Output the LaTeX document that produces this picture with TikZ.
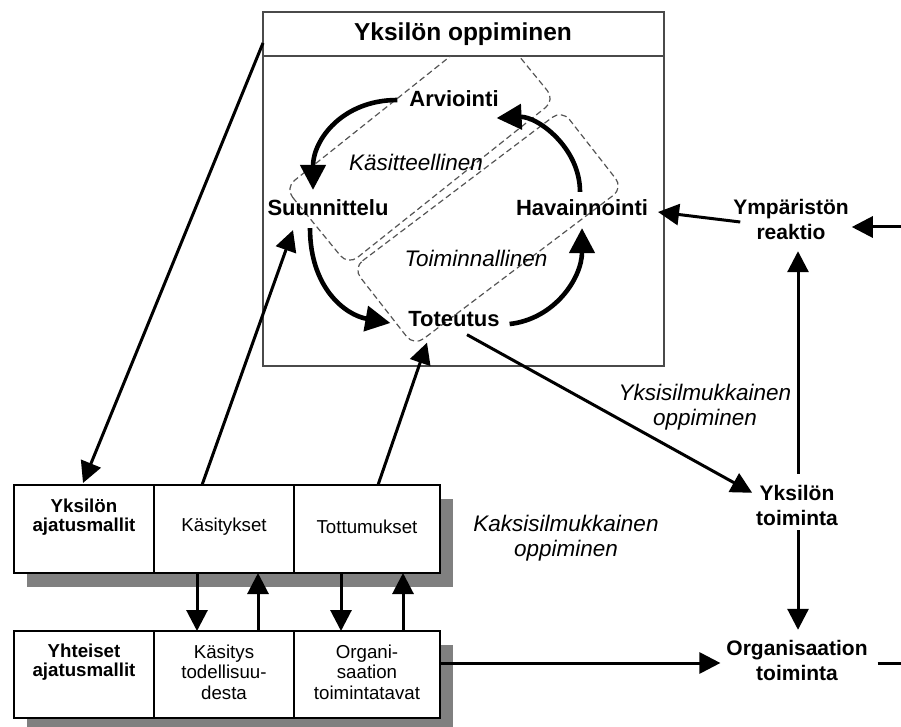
\documentclass[tikz,border=0pt]{standalone}
\usepackage{fontspec}
\setmainfont{Liberation Sans}
\usetikzlibrary{arrows.meta,calc}
\definecolor{framegray}{HTML}{4A4A4A}
\definecolor{regiongray}{HTML}{555555}
\definecolor{shadowgray}{HTML}{808080}
\begin{document}
\begin{tikzpicture}[x=1pt,y=-1pt,
  every node/.style={inner sep=0pt, outer sep=0pt, align=center},
  titletext/.style={font={\fontsize{24.5}{28}\selectfont\bfseries}},
  stage/.style={font={\fontsize{22}{25}\selectfont\bfseries}},
  actor/.style={font={\fontsize{21}{25}\selectfont\bfseries}},
  note/.style={font={\fontsize{22.5}{25.5}\selectfont\itshape}},
  celltext/.style={font={\fontsize{18.7}{20.5}\selectfont}},
  cellhead/.style={font={\fontsize{18.7}{19.5}\selectfont\bfseries}},
  cell/.style={draw=black, line width=2.2pt, fill=white},
  frame/.style={draw=framegray, line width=2.2pt},
  region/.style={draw=regiongray, line width=1.2pt, dash pattern=on 6pt off 3.5pt, rounded corners=12pt},
  arr/.style={line width=3pt, -{Triangle[length=21pt,width=21pt]}},
  cycarr/.style={line width=4.6pt, -{Triangle[length=25pt,width=25pt]}},
  plain/.style={line width=3pt}
]
\useasboundingbox (0,0) rectangle (901,727);

% ---------- individual learning frame ----------
\node[frame, minimum width=401pt, minimum height=354pt] (frame) at (463.5,189) {};
\draw[frame] (frame.west |- 0,56) -- (frame.east |- 0,56);
\node[titletext] (title) at (463,34) {Yksilön oppiminen};

% conceptual and operational halves of the cycle
\begin{scope}
  \clip (frame.south west) rectangle (frame.east |- 0,57);
  \draw[region] (285,188) -- (348,265) -- (555,100) -- (492,23) -- cycle;
  \draw[region] (353,268) -- (562,110) -- (623,188) -- (414,346) -- cycle;
\end{scope}

\node[note] (kas) at (416,162) {Käsitteellinen};
\node[note] (toim) at (476,258) {Toiminnallinen};

% learning cycle stages
\node[stage] (arv) at (454,99) {Arviointi};
\node[stage] (suu) at (328,208) {Suunnittelu};
\node[stage] (hav) at (582,208) {Havainnointi};
\node[stage] (tot) at (454,319) {Toteutus};

\draw[cycarr] ($(arv.west)+(-12,1)$) .. controls +(-55,0) and +(0,-50) .. ($(suu.north)+(-15,-10)$);
\draw[cycarr] ($(suu.south)+(-18,12)$) .. controls +(0,60) and +(-45,-8) .. ($(tot.west)+(-18,4)$);
\draw[cycarr] ($(tot.east)+(10,5)$) .. controls +(45,-5) and +(0,50) .. ($(hav.south)+(0,12)$);
\draw[cycarr] ($(hav.north)+(-2,-8)$) .. controls +(0,-45) and +(40,-2) .. ($(arv.south east)+(-2,11)$);

% ---------- mental models ----------
\fill[shadowgray] (27,499) rectangle (453,587);
\fill[shadowgray] (27,645) rectangle (453,727);

\node[cell, minimum width=140pt, minimum height=88pt] (y1) at (84,529) {};
\node[cell, minimum width=140pt, minimum height=88pt] (y2) at (224,529) {};
\node[cell, minimum width=146pt, minimum height=88pt] (y3) at (367,529) {};
\node[cell, minimum width=140pt, minimum height=87pt] (k1) at (84,674.5) {};
\node[cell, minimum width=140pt, minimum height=87pt] (k2) at (224,674.5) {};
\node[cell, minimum width=146pt, minimum height=87pt] (k3) at (367,674.5) {};

\node[cellhead] (y1t) at (84,517) {Yksilön\\ajatusmallit};
\node[celltext] (y2t) at (224,527) {Käsitykset};
\node[celltext] (y3t) at (367,527) {Tottumukset};
\node[cellhead] (k1t) at (84,662) {Yhteiset\\ajatusmallit};
\node[celltext] (k2t) at (224,672) {Käsitys\\todellisuu-\\desta};
\node[celltext] (k3t) at (367,672) {Organi-\\saation\\toimintatavat};

\draw[arr] (y2.south -| 197,0) -- (k2.north -| 197,0);
\draw[arr] (k2.north -| 258,0) -- (y2.south -| 258,0);
\draw[arr] (y3.south -| 341,0) -- (k3.north -| 341,0);
\draw[arr] (k3.north -| 403,0) -- (y3.south -| 403,0);

% links between the frame and the mental models
\draw[arr] ($(frame.north west)+(0,31)$) -- ($(y1.north)+(-1,-2)$);
\draw[arr] ($(y2.north)+(-22,0)$) -- ($(suu.south)+(-35,14)$);
\draw[arr] ($(y3.north)+(11,0)$) -- ($(tot.south)+(-27,16)$);

% ---------- action and environment ----------
\node[actor] (ymp) at (791,219) {Ympäristön\\reaktio};
\node[actor] (yt) at (797,505) {Yksilön\\toiminta};
\node[actor] (ot) at (797,660) {Organisaation\\toiminta};

\node[note] (yksi) at (705,407) {Yksisilmukkainen\\oppiminen};
\node[note] (kaksi) at (566,538) {Kaksisilmukkainen\\oppiminen};

\coordinate (inEdge) at (901,227);
\coordinate (outEdge) at (901,663);

\draw[arr] ($(tot.south)+(13,8)$) -- ($(yt.north west)+(-4,8)$);
\draw[arr] ($(ymp.west)+(7,3)$) -- ($(hav.east)+(10,4)$);
\draw[arr] (inEdge) -- ($(ymp.east)+(3,8)$);
\draw[arr] ($(yt.north)+(1,-11)$) -- ($(ymp.south)+(7,12)$);
\draw[arr] ($(yt.south)+(1,5)$) -- ($(ot.north)+(1,-10)$);
\draw[arr] (k3.east |- 0,663) -- ($(ot.west)+(-6,3)$);
\draw[plain] ($(ot.east)+(10,3)$) -- (outEdge);
\end{tikzpicture}
\end{document}
